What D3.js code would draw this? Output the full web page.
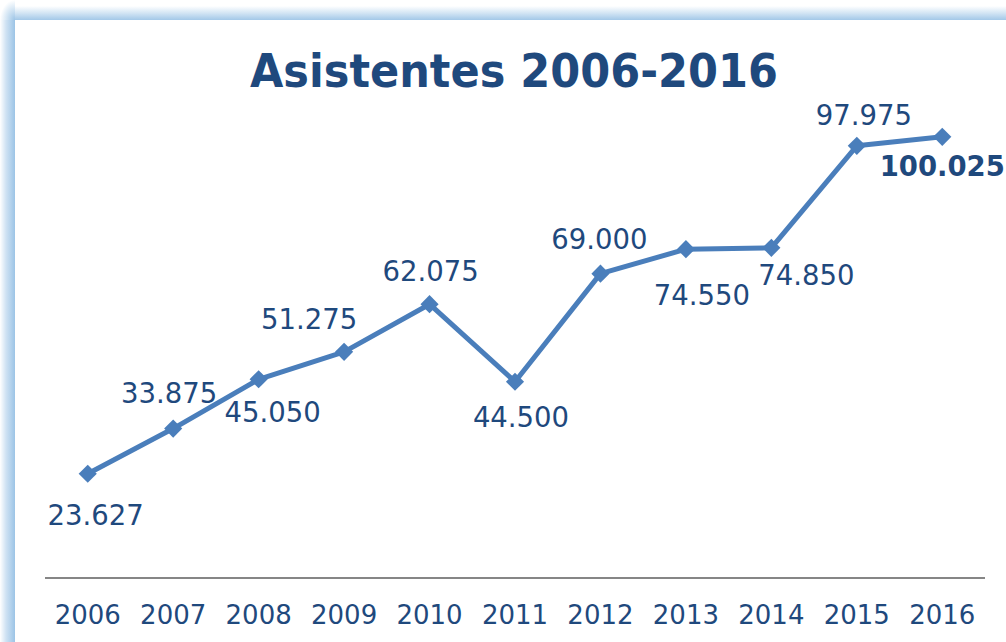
<!DOCTYPE html>
<html lang="es">
<head>
<meta charset="utf-8">
<title>Asistentes 2006-2016</title>
<style>
    body { margin: 0; background: #ffffff; }
    svg { display: block; }
    .title { font-family: "DejaVu Sans", Verdana, sans-serif; font-weight: bold; fill: #1F497D; }
    .lbl, .tick { font-family: "DejaVu Sans", Verdana, sans-serif; fill: #1F497D; }
</style>
</head>
<body>
<svg id="chart" width="1006" height="642"></svg>
<script src="https://d3js.org/d3.v7.min.js"></script>
<script>
    // data
    var years = ["2006", "2007", "2008", "2009", "2010", "2011", "2012", "2013", "2014", "2015", "2016"];
    var asistentes = [23627, 33875, 45050, 51275, 62075, 44500, 69000, 74550, 74850, 97975, 100025];
    var valueLabels = ["23.627", "33.875", "45.050", "51.275", "62.075", "44.500", "69.000", "74.550", "74.850", "97.975", "100.025"];

    // where each label sits relative to its point (manual placement, like the original)
    var labelOffsets = [[8, 51], [-4, -26], [14, 43], [-35, -23], [1, -23], [6, 45], [-1, -25], [16, 56], [35, 37], [7, -21], [0, 39]];

    var width = 1006, height = 642;
    var svg = d3.select("#chart");

    // frame glow (left + top)
    var defs = svg.append("defs");
    var gl = defs.append("linearGradient").attr("id", "gLeft").attr("x1", 0).attr("x2", 1).attr("y1", 0).attr("y2", 0);
    gl.append("stop").attr("offset", 0).attr("stop-color", "#ffffff");
    gl.append("stop").attr("offset", 0.4).attr("stop-color", "#cfe2f3");
    gl.append("stop").attr("offset", 1).attr("stop-color", "#9cc4e6");
    var gt = defs.append("linearGradient").attr("id", "gTop").attr("x1", 0).attr("x2", 0).attr("y1", 0).attr("y2", 1);
    gt.append("stop").attr("offset", 0.3).attr("stop-color", "#ffffff");
    gt.append("stop").attr("offset", 0.65).attr("stop-color", "#d3e5f4");
    gt.append("stop").attr("offset", 1).attr("stop-color", "#a3c8e8");
    var gc = defs.append("radialGradient").attr("id", "gCorner")
        .attr("cx", 1).attr("cy", 1).attr("r", 1).attr("fx", 1).attr("fy", 1);
    gc.append("stop").attr("offset", 0).attr("stop-color", "#9cc4e6");
    gc.append("stop").attr("offset", 0.55).attr("stop-color", "#d3e5f4");
    gc.append("stop").attr("offset", 1).attr("stop-color", "#ffffff");

    svg.append("rect").attr("x", 0).attr("y", 20).attr("width", 15).attr("height", height - 20).attr("fill", "url(#gLeft)");
    svg.append("rect").attr("x", 15).attr("y", 0).attr("width", width - 15).attr("height", 20).attr("fill", "url(#gTop)");
    svg.append("rect").attr("x", 0).attr("y", 0).attr("width", 15).attr("height", 20).attr("fill", "url(#gCorner)");
    svg.append("rect").attr("x", 15).attr("y", 20).attr("width", width - 15).attr("height", height - 20).attr("fill", "#ffffff");

    // title
    svg.append("text").attr("class", "title")
        .attr("x", 514).attr("y", 87)
        .attr("text-anchor", "middle")
        .attr("font-size", 46)
        .attr("textLength", 528).attr("lengthAdjust", "spacingAndGlyphs")
        .text("Asistentes 2006-2016");

    // scales
    var x = d3.scaleBand().domain(years).range([45, 985]);
    var y = d3.scaleLinear().domain([0, 120000]).range([578, 48.7]);
    var cx = function(i) { return x(years[i]) + x.bandwidth() / 2; };

    // category axis
    svg.append("line").attr("x1", 45).attr("x2", 985).attr("y1", 578).attr("y2", 578)
        .attr("stroke", "#868686").attr("stroke-width", 2);
    svg.selectAll(".tick").data(years).enter().append("text")
        .attr("class", "tick")
        .attr("x", d => x(d) + x.bandwidth() / 2)
        .attr("y", 624)
        .attr("text-anchor", "middle")
        .attr("font-size", 26)
        .text(d => d);

    // line
    var line = d3.line().x((d, i) => cx(i)).y(d => y(d));
    svg.append("path").datum(asistentes)
        .attr("d", line)
        .attr("fill", "none")
        .attr("stroke", "#4A7EBB")
        .attr("stroke-width", 5)
        .attr("stroke-linejoin", "round");

    // diamond markers
    var diamond = d3.symbol().type(d3.symbolDiamond2).size(210);
    svg.selectAll(".mk").data(asistentes).enter().append("path")
        .attr("class", "mk")
        .attr("d", diamond)
        .attr("transform", (d, i) => "translate(" + cx(i) + "," + y(d) + ")")
        .attr("fill", "#4A7EBB");

    // value labels
    svg.selectAll(".lbl").data(asistentes).enter().append("text")
        .attr("class", "lbl")
        .attr("x", (d, i) => cx(i) + labelOffsets[i][0])
        .attr("y", (d, i) => y(d) + labelOffsets[i][1])
        .attr("text-anchor", "middle")
        .attr("font-size", 27.5)
        .attr("font-weight", (d, i) => i === asistentes.length - 1 ? "bold" : "normal")
        .text((d, i) => valueLabels[i]);
</script>
</body>
</html>
